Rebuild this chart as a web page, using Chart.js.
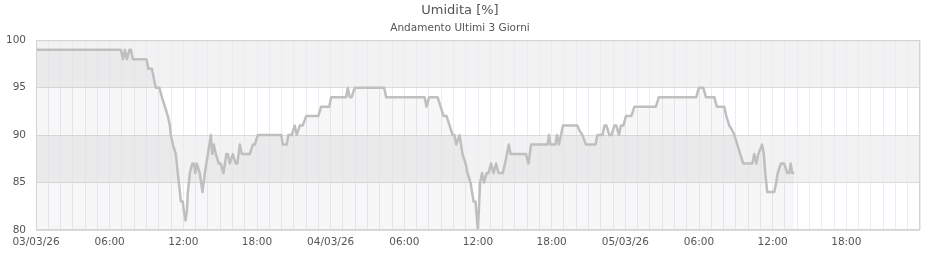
<!DOCTYPE html>
<html>
<head>
<meta charset="utf-8">
<script src="https://cdn.jsdelivr.net/npm/chart.js@4/dist/chart.umd.min.js"></script>
<style>
  body { margin: 0; background: #fff; }
  #wrap { width: 940px; height: 260px; }
</style>
</head>
<body>
<div id="wrap"><canvas id="umidChart"></canvas></div>
<script>
// hours since 03/03/26 00:00
const hours = [
  0, 6.92, 7.08, 7.24, 7.40, 7.61, 7.73, 7.89, 8.99, 9.15, 9.44, 9.60, 9.76, 10.05,
  10.25, 10.50, 10.74, 10.90, 10.98, 11.15, 11.39, 11.55, 11.72, 11.80, 11.96, 12.04,
  12.18, 12.29, 12.37, 12.53, 12.73, 12.86, 12.98, 13.10, 13.34, 13.56, 13.75, 14.00,
  14.24, 14.36, 14.48, 14.65, 14.89, 15.05, 15.27, 15.50, 15.62, 15.79, 16.03, 16.27,
  16.40, 16.60, 16.76, 17.09, 17.41, 17.66, 17.82, 18.06, 19.98, 20.10, 20.42, 20.55,
  20.83, 21.07, 21.24, 21.48, 21.72, 22.01, 22.99, 23.23, 23.88, 24.04, 25.26, 25.39,
  25.55, 25.71, 25.96, 28.36, 28.52, 31.65, 31.81, 32.02, 32.71, 32.95, 33.20, 33.44,
  33.69, 33.93, 34.09, 34.23, 34.50, 34.74, 34.99, 35.15, 35.39, 35.64, 35.80, 35.92,
  35.99, 36.07, 36.17, 36.33, 36.49, 36.70, 36.86, 37.06, 37.27, 37.47, 37.67, 38.02,
  38.20, 38.51, 38.65, 38.89, 39.91, 40.11, 40.32, 41.66, 41.78, 41.90, 42.31, 42.43,
  42.60, 42.76, 42.92, 44.10, 44.26, 44.51, 44.79, 45.57, 45.73, 46.14, 46.30, 46.46,
  46.70, 46.87, 47.11, 47.27, 47.48, 47.64, 47.84, 48.05, 48.49, 48.74, 50.49, 50.73,
  53.78, 53.99, 54.35, 54.56, 55.25, 55.45, 56.06, 56.22, 56.47, 56.71, 56.88, 57.12,
  57.36, 57.61, 58.34, 58.50, 58.67, 58.83, 59.13, 59.28, 59.40, 59.56, 60.13, 60.29,
  60.41, 60.66, 60.94, 61.07, 61.19, 61.35, 61.47, 61.59, 61.76
];
const humidity = [
  99, 99, 98, 99, 98, 99, 99, 98, 98, 97, 97, 96, 95, 95,
  94, 93, 92, 91, 90, 89, 88, 86, 84, 83, 83, 82,
  81, 82, 84, 86, 87, 87, 86, 87, 86, 84, 86, 88,
  90, 88, 89, 88, 87, 87, 86, 88, 88, 87, 88, 87,
  87, 89, 88, 88, 88, 89, 89, 90, 90, 89, 89, 90,
  90, 91, 90, 91, 91, 92, 92, 93, 93, 94, 94, 95,
  94, 94, 95, 95, 94, 94, 93, 94, 94, 93, 92, 92,
  91, 90, 90, 89, 90, 88, 87, 86, 85, 83, 83, 81,
  80, 82, 85, 86, 85, 86, 86, 87, 86, 87, 86, 86,
  87, 89, 88, 88, 88, 87, 89, 89, 90, 89, 89, 90,
  89, 90, 91, 91, 90.5, 90, 89, 89, 90, 90, 91, 91,
  90, 90, 91, 91, 90, 91, 91, 92, 92, 93, 93, 94,
  94, 95, 95, 94, 94, 93, 93, 92, 91, 90.5, 90, 89,
  88, 87, 87, 88, 87, 88, 89, 88, 86, 84, 84, 85,
  86, 87, 87, 86.5, 86, 86, 87, 86, 86
];
const dayLabels = ["03/03/26", "04/03/26", "05/03/26"];
const hourLabels = ["06:00", "12:00", "18:00"];
const yTicks = [80, 85, 90, 95, 100];
const shadedBands = [[85, 90], [95, 100]];

const font = "'DejaVu Sans', sans-serif";

// grey bands behind the grid, frame around the plot, first x label
const bandPlugin = {
  id: "bands",
  beforeDraw(chart) {
    const { ctx, chartArea, scales } = chart;
    ctx.save();
    ctx.fillStyle = "#f2f2f2";
    shadedBands.forEach(([lo, hi]) => {
      const yTop = scales.y.getPixelForValue(hi);
      const yBot = scales.y.getPixelForValue(lo);
      ctx.fillRect(chartArea.left, yTop, chartArea.right - chartArea.left, yBot - yTop);
    });
    ctx.restore();
  },
  afterDatasetsDraw(chart) {
    const { ctx, chartArea } = chart;
    ctx.save();
    ctx.strokeStyle = "#d4d4d4";
    ctx.lineWidth = 1;
    ctx.strokeRect(chartArea.left + 0.5, chartArea.top + 0.5,
      chartArea.right - chartArea.left - 1, chartArea.bottom - chartArea.top - 1);
    ctx.restore();
  },
  afterDraw(chart) {
    // the label at the very first tick is placed here, centred on the tick
    const x = chart.scales.x;
    const ref = x.getLabelItems().find(it => it.label === hourLabels[0]);
    if (!ref) return;
    const ctx = chart.ctx;
    ctx.save();
    ctx.font = ref.font.string;
    ctx.fillStyle = "#555";
    ctx.textAlign = "center";
    ctx.textBaseline = ref.options.textBaseline;
    ctx.translate(x.getPixelForValue(0), ref.options.translation[1]);
    ctx.fillText(dayLabels[0], 0, ref.textOffset);
    ctx.restore();
  }
};

new Chart(document.getElementById("umidChart"), {
  type: "line",
  data: {
    datasets: [{
      data: hours.map((h, i) => ({ x: h, y: humidity[i] })),
      borderColor: "#bfbfbf",
      borderWidth: 2.5,
      borderJoinStyle: "round",
      backgroundColor: "rgba(0,0,0,0.03)",
      fill: "start",
      pointRadius: 0,
      tension: 0
    }]
  },
  plugins: [bandPlugin],
  options: {
    responsive: true,
    maintainAspectRatio: false,
    animation: false,
    layout: { padding: { left: 0, right: 20, top: 0, bottom: 0 } },
    plugins: {
      legend: { display: false },
      tooltip: { enabled: false },
      title: {
        display: true,
        text: "Umidita [%]",
        color: "#555",
        font: { family: font, size: 13, weight: "normal" },
        padding: { top: 3, bottom: 3 }
      },
      subtitle: {
        display: true,
        text: "Andamento Ultimi 3 Giorni",
        color: "#555",
        font: { family: font, size: 10.5 },
        padding: { top: 0, bottom: 6 }
      }
    },
    scales: {
      x: {
        type: "linear",
        min: 0,
        max: 72,
        afterFit: s => { s.height = 30; },
        grid: { color: "#ebebf8", drawTicks: false },
        border: { display: false },
        ticks: {
          stepSize: 1,
          autoSkip: false,
          maxRotation: 0,
          padding: 6,
          color: "#555",
          font: { family: font, size: 10.5 },
          callback: v => {
            if (v === 0 || v % 6 !== 0 || v >= 72) return "";
            const h = v % 24;
            return h === 0 ? dayLabels[v / 24] : hourLabels[h / 6 - 1];
          }
        }
      },
      y: {
        min: 80,
        max: 100,
        afterFit: s => { s.width = 36; },
        afterBuildTicks: s => { s.ticks = yTicks.map(v => ({ value: v })); },
        grid: { color: "#dcdcdc", drawTicks: false },
        border: { display: false },
        ticks: {
          padding: 10,
          color: "#555",
          font: { family: font, size: 10.5 }
        }
      }
    }
  }
});
</script>
</body>
</html>
